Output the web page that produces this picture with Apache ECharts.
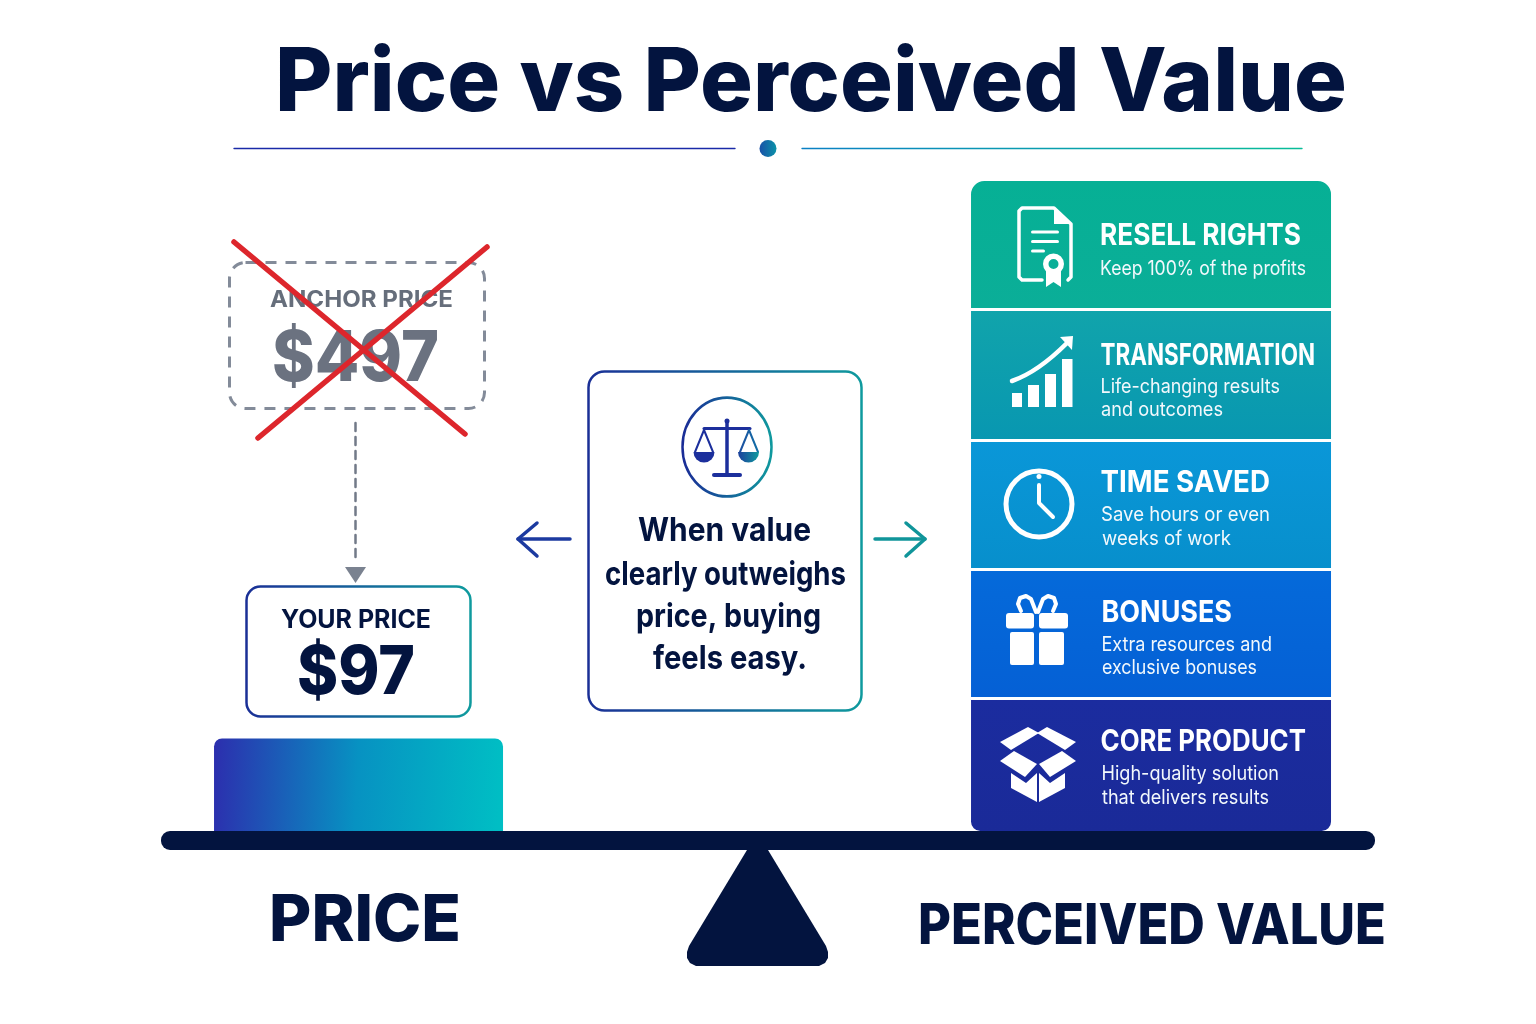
<!DOCTYPE html>
<html>
<head>
<meta charset="utf-8">
<title>Price vs Perceived Value</title>
<script src="https://cdn.jsdelivr.net/npm/echarts@6/dist/echarts.min.js"></script>
<style>
html, body { margin: 0; padding: 0; background: #fff; }
#chart { width: 1536px; height: 1024px; }
</style>
</head>
<body>
<div id="chart"></div>
<script>
var categories = ['PRICE', '', 'PERCEIVED VALUE'];
var priceHeight = [94, null, null];
var stackNames = ['CORE PRODUCT', 'BONUSES', 'TIME SAVED', 'TRANSFORMATION', 'RESELL RIGHTS'];
var stackHeights = [134, 129, 129, 131, 130];
var stackNotes = [
    ['High-quality solution', 'that delivers results'],
    ['Extra resources and', 'exclusive bonuses'],
    ['Save hours or even', 'weeks of work'],
    ['Life-changing results', 'and outcomes'],
    ['Keep 100% of the profits']
];
var stackColors = [
    ['#1b2c9f', '#1a2a98'],
    ['#056ada', '#0560d5'],
    ['#0a97d8', '#078fcc'],
    ['#11a4ab', '#0897b1'],
    ['#06b095', '#0bae98']
];
var titleText = 'Price vs Perceived Value';
var anchorLabel = 'ANCHOR PRICE';
var anchorPrice = '$497';
var yourLabel = 'YOUR PRICE';
var yourPrice = '$97';
var messageLines = ['When value', 'clearly outweighs', 'price, buying', 'feels easy.'];

var NAVY = '#03143f';
var FONT = 'Inter, "Noto Sans", sans-serif';
var chart = echarts.init(document.getElementById('chart'));
var ruler = document.createElement('canvas').getContext('2d');
var els = [];

function add(el) {
    el.z = 100;
    el.silent = true;
    els.push(el);
}
// text squeezed to the width it has in the picture
function txt(str, x1, x2, y, size, weight, color) {
    var font = weight + ' ' + size + 'px ' + FONT;
    ruler.font = font;
    add({
        type: 'text', x: x1, y: y, scaleX: (x2 - x1) / ruler.measureText(str).width,
        style: {text: str, font: font, fill: color, textAlign: 'left', textVerticalAlign: 'middle'}
    });
}
function grad(x1, x2, c1, c2) {
    return {type: 'linear', x: x1, y: 0, x2: x2, y2: 0, global: true, colorStops: [{offset: 0, color: c1}, {offset: 1, color: c2}]};
}
function line(x1, y1, x2, y2, color, w, dash) {
    add({type: 'line', shape: {x1: x1, y1: y1, x2: x2, y2: y2}, style: {stroke: color, lineWidth: w, lineCap: 'round', lineDash: dash || null}});
}
function poly(points, fill) {
    add({type: 'polygon', shape: {points: points}, style: {fill: fill}});
}
function pline(points, color, w) {
    add({type: 'polyline', shape: {points: points}, style: {stroke: color, lineWidth: w, fill: null, lineCap: 'round', lineJoin: 'round'}});
}
function box(x, y, w, h, r, fill, stroke, lw, dash) {
    add({type: 'rect', shape: {x: x, y: y, width: w, height: h, r: r},
        style: {fill: fill || 'transparent', stroke: stroke || null, lineWidth: lw || 0, lineDash: dash || null}});
}
function ring(cx, cy, r, color, w) {
    add({type: 'circle', shape: {cx: cx, cy: cy, r: r}, style: {fill: 'transparent', stroke: color, lineWidth: w}});
}

// title and divider
txt(titleText, 275, 1347, 85, 88, 800, NAVY);
line(234, 148.5, 735, 148.5, grad(234, 735, '#1a2aa8', '#1a2aa8'), 1.4);
line(802, 148.5, 1302, 148.5, grad(802, 1302, '#0a80c4', '#08bd98'), 1.4);
add({type: 'circle', shape: {cx: 768, cy: 148.5, r: 8.5}, style: {fill: grad(759, 777, '#1a4fa8', '#0a94a8')}});

// crossed out anchor price
box(229.5, 262.5, 255, 146, 16, null, '#838b99', 3, [11, 9]);
txt(anchorLabel, 270, 453, 300, 23, 700, '#666e7b');
txt(anchorPrice, 272, 439, 360, 70, 800, '#6b7280');
line(234, 242, 465, 434, '#dd262c', 5.5);
line(487, 247, 258, 438, '#dd262c', 5.5);
line(355.5, 423, 355.5, 562, '#727a88', 2.5, [8, 6]);
poly([[345, 567], [366, 567], [355.5, 583]], '#7a8290');

// your price
box(246.5, 586.5, 224, 130, 14, '#fff', grad(246, 470, '#1a2f96', '#0f9a9e'), 2.5);
txt(yourLabel, 281, 431, 620, 25, 700, NAVY);
txt(yourPrice, 297, 415, 674, 68, 800, NAVY);

// message box
box(588.5, 371.5, 273, 339, 16, '#fff', grad(588, 862, '#1a2f96', '#0f9a9e'), 2.5);
// the circle round the scales is taller than wide in the picture
add({type: 'circle', x: 727, y: 447, scaleY: 1.11, shape: {cx: 0, cy: 0, r: 44.5},
    style: {fill: 'transparent', stroke: {type: 'linear', x: 0, y: 0, x2: 1, y2: 0, colorStops: [{offset: 0, color: '#1a2a96'}, {offset: 1, color: '#0f9a9e'}]}, lineWidth: 2.5}});
line(727, 421, 727, 473, '#1c2f9c', 3.5);
add({type: 'circle', shape: {cx: 727, cy: 421, r: 2.5}, style: {fill: '#1c2f9c'}});
box(712, 473, 30, 4, 2, '#1c2f9c');
line(704, 428.5, 750, 428.5, '#1c2f9c', 3);
pline([[695, 452], [704, 430], [713, 452]], '#1c2f9c', 2);
pline([[740, 452], [749, 430], [758, 452]], grad(740, 758, '#1c4fa0', '#126fa6'), 2);
add({type: 'sector', shape: {cx: 704, cy: 452, r: 10.5, r0: 0, startAngle: 0, endAngle: Math.PI}, style: {fill: '#1c2f9c'}});
add({type: 'sector', shape: {cx: 748.5, cy: 452, r: 10.5, r0: 0, startAngle: 0, endAngle: Math.PI}, style: {fill: grad(738, 759, '#1c3f9c', '#0f9a9e')}});
txt(messageLines[0], 638, 811, 531, 33, 700, NAVY);
txt(messageLines[1], 605, 846, 575, 33, 700, NAVY);
txt(messageLines[2], 636, 821, 617, 33, 700, NAVY);
txt(messageLines[3], 653, 807, 659, 33, 700, NAVY);

// arrows either side
pline([[570, 539], [518, 539]], '#1c3aa0', 3.5);
pline([[537, 523], [518, 539], [537, 556]], '#1c3aa0', 3.5);
pline([[875, 539], [925, 539]], '#10959a', 3.5);
pline([[906, 523], [925, 539], [906, 556]], '#10959a', 3.5);

// text on the value stack, top to bottom
var stackText = [
    {i: 4, x: 1100, x2: 1301, y: 235.5, note: [[1100, 1306, 269]]},
    {i: 3, x: 1100.5, x2: 1315, y: 355.5, note: [[1100.5, 1280, 387], [1101, 1223, 410]]},
    {i: 2, x: 1100.5, x2: 1270, y: 482.5, note: [[1101, 1270, 515], [1102, 1231, 539]]},
    {i: 1, x: 1101.5, x2: 1232, y: 612.5, note: [[1101.5, 1272, 645], [1102, 1257, 668]]},
    {i: 0, x: 1100.5, x2: 1306, y: 741.5, note: [[1101.5, 1279, 774], [1102, 1269, 798]]}
];
stackText.forEach(function (t) {
    txt(stackNames[t.i], t.x, t.x2, t.y, 30, 700, '#fff');
    t.note.forEach(function (n, k) {
        txt(stackNotes[t.i][k], n[0], n[1], n[2], 20, 400, '#f2f8fc');
    });
});

// document icon
var W = '#fff';
pline([[1042, 280], [1022, 280], [1019, 277], [1019, 211], [1022, 208], [1054, 208], [1071, 224], [1071, 277], [1068, 280]], W, 3.5);
poly([[1054, 208], [1071, 224], [1054, 224]], W);
box(1031, 230.5, 28, 3, 1.5, W);
box(1031, 240, 28, 3, 1.5, W);
box(1031, 249.5, 14, 3, 1.5, W);
poly([[1046, 270], [1061, 270], [1061, 287], [1053.5, 282], [1046, 287]], W);
add({type: 'ring', shape: {cx: 1053.5, cy: 264, r: 10.5, r0: 5}, style: {fill: W}});
// growth icon
box(1012, 393, 10, 14, 0, W);
box(1028, 385, 11, 22, 0, W);
box(1045, 374, 11, 33, 0, W);
box(1062, 359, 10.5, 48, 0, W);
add({type: 'bezierCurve', shape: {x1: 1012, y1: 381, cpx1: 1038, cpy1: 372, x2: 1067, y2: 343}, style: {stroke: W, lineWidth: 4.5, fill: null, lineCap: 'round'}});
poly([[1060, 337], [1073, 336], [1072, 350]], W);
// clock icon
ring(1039, 504, 33, W, 5);
add({type: 'circle', shape: {cx: 1039, cy: 476.5, r: 2.5}, style: {fill: W}});
pline([[1039, 485], [1039, 503], [1053, 517]], W, 4);
// gift icon
box(1006, 613, 28, 15.5, 3, W);
box(1039, 613, 29, 15.5, 3, W);
box(1010, 632, 24, 33, 2, W);
box(1039, 632, 25, 33, 2, W);
pline([[1021, 611], [1018, 604], [1020, 598], [1026, 596], [1031, 599], [1036, 612]], W, 4);
pline([[1053, 611], [1056, 604], [1054, 598], [1048, 596], [1043, 599], [1038, 612]], W, 4);
// box icon
poly([[1000, 742], [1028, 727], [1039, 733], [1011, 750]], W);
poly([[1047, 727], [1076, 742], [1065, 750], [1037, 733]], W);
poly([[1000, 761], [1014, 751], [1037, 764], [1025, 777]], W);
poly([[1062, 751], [1076, 761], [1050, 777], [1039, 764]], W);
poly([[1011, 773], [1026, 783], [1037, 773], [1037, 802], [1011, 788]], W);
poly([[1065, 773], [1050, 783], [1039, 773], [1039, 802], [1065, 788]], W);

// balance beam and pivot
box(161, 831, 1214, 19, 9, NAVY);
poly([[747, 850], [768, 850], [826, 946], [828, 952], [828, 958], [825, 963], [819, 966], [696, 966], [690, 963], [687, 958], [687, 952], [689, 946]], NAVY);
txt(categories[0], 269, 461, 921, 65, 800, NAVY);
txt(categories[2], 918, 1386, 927, 56, 800, NAVY);

// bars: the stack is bottom up
var series = [{
    name: 'Price', type: 'bar', xAxisIndex: 0, stack: 'price', barWidth: 289, silent: true,
    data: priceHeight,
    itemStyle: {
        borderRadius: [8, 8, 0, 0],
        color: new echarts.graphic.LinearGradient(0, 0, 1, 0.15, [
            {offset: 0, color: '#2c2eae'}, {offset: 0.5, color: '#0792c2'}, {offset: 1, color: '#00bec4'}
        ])
    }
}];
stackNames.forEach(function (name, i) {
    var radius = i === 4 ? [14, 14, 0, 0] : (i === 0 ? [0, 0, 10, 10] : 0);
    series.push({
        name: name, type: 'bar', xAxisIndex: 1, stack: 'value', barWidth: 363, silent: true,
        data: [null, null, stackHeights[i]],
        itemStyle: {
            borderRadius: radius, borderColor: '#fff', borderWidth: 1.5,
            color: new echarts.graphic.LinearGradient(0, 0, 0, 1, [
                {offset: 0, color: stackColors[i][0]}, {offset: 1, color: stackColors[i][1]}
            ])
        }
    });
});

chart.setOption({
    animation: false,
    backgroundColor: '#fff',
    grid: {left: 160.4, width: 1188.75, top: 179.5, height: 653},
    xAxis: [
        {type: 'category', data: categories, show: false},
        {type: 'category', data: categories, show: false}
    ],
    yAxis: {type: 'value', min: 0, max: 653, show: false},
    series: series,
    graphic: {elements: els}
});

window.onresize = function () {
    chart.resize();
};
</script>
</body>
</html>
